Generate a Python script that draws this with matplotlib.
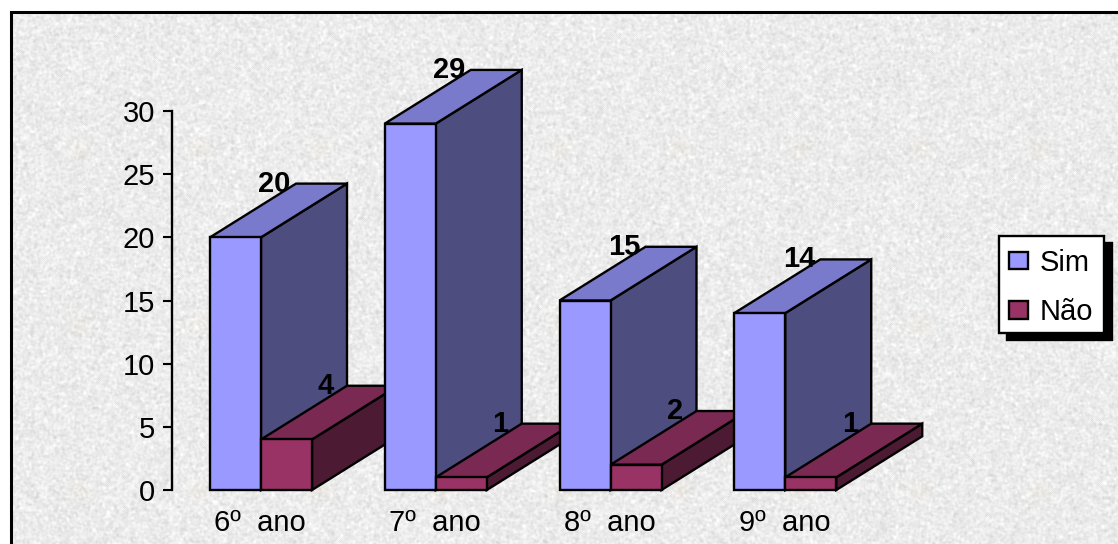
import numpy as np
import matplotlib
matplotlib.use("Agg")
import matplotlib.pyplot as plt
from matplotlib.patches import Patch, Rectangle

plt.rcParams['font.family'] = ['Liberation Sans', 'DejaVu Sans']

anos = ['6º  ano', '7º  ano', '8º  ano', '9º  ano']
sim = [20, 29, 15, 14]
nao = [4, 1, 2, 1]
y_ticks = [0, 5, 10, 15, 20, 25, 30]

W, H = 1118, 544
fig = plt.figure(figsize=(W / 100, H / 100), dpi=100, facecolor='white')

# textured paper background, only decoration
rng = np.random.default_rng(3)
tex = rng.normal(0, 1, (H - 12, W - 10))
for _ in range(2):
    tex = (tex + np.roll(tex, 1, 0) + np.roll(tex, -1, 0) + np.roll(tex, 1, 1) + np.roll(tex, -1, 1)) / 5
tex = 236 + tex / tex.std() * 6
bg = np.dstack([tex, tex, tex])
# faint beige spots of the paper pattern
yy, xx = np.mgrid[12:H, 10:W]
for sx in range(80, 1118, 120):
    for sy in (148, 325, 490):
        d = np.exp(-((xx - sx) ** 2 + (yy - sy) ** 2) / 90.0)
        bg[:, :, 1] -= d * 3
        bg[:, :, 2] -= d * 8
fig.figimage(np.clip(bg, 0, 255).astype(np.uint8), xo=10, yo=0, origin='upper', zorder=-1)

# outer frame, cut by the image at right and bottom
fig.add_artist(Rectangle((11 / W, -0.1), 1.2, (H - 12) / H + 0.1, transform=fig.transFigure,
                         fill=False, ec='black', lw=2.2))

# axes: x from 173 to 872 px, y from 490 (0) to 111 (30)
ax = fig.add_axes([173 / W, (H - 490) / H, 699 / W, 379 / H])
ax.patch.set_visible(False)
ax.set_xlim(0, 4)
ax.set_ylim(0, 30)

bw = 51 / 174.75
dx = 86 / 174.75
dy = 53.7 / 12.63
start = 37 / 174.75


def bar3d(x0, v, front, top, side):
    ax.fill([x0 + bw, x0 + bw + dx, x0 + bw + dx, x0 + bw], [0, dy, v + dy, v],
            fc=side, ec='black', lw=1.7, clip_on=False, joinstyle='miter')
    ax.fill([x0, x0 + dx, x0 + bw + dx, x0 + bw], [v, v + dy, v + dy, v],
            fc=top, ec='black', lw=1.7, clip_on=False, joinstyle='miter')
    ax.bar(x0, v, bw, align='edge', color=front, edgecolor='black', lw=1.7, clip_on=False)
    ax.text(x0 + 0.37, v + dy, str(v), ha='center', va='center', fontsize=21,
            fontweight='bold', color='black', clip_on=False, zorder=10)


for i in range(len(anos)):
    x0 = i + start
    bar3d(x0, sim[i], '#9999FF', '#7A7ACC', '#4D4D80')
    bar3d(x0 + bw, nao[i], '#993366', '#7A2952', '#4D1A33')

for s in ['top', 'right', 'bottom']:
    ax.spines[s].set_visible(False)
ax.spines['left'].set_linewidth(1.7)
ax.spines['left'].set_position(('outward', 1))
ax.set_yticks(y_ticks)
ax.tick_params(axis='y', length=6.5, width=1.5, pad=5.5, labelsize=21)
ax.set_xticks([i + 0.5 for i in range(len(anos))])
ax.set_xticklabels(anos)
ax.tick_params(axis='x', length=0, pad=14, labelsize=21)

handles = [Patch(fc='#9999FF', ec='black', lw=1.7, label='Sim'),
           Patch(fc='#993366', ec='black', lw=1.7, label='Não')]
leg = fig.legend(handles=handles, loc='upper left',
                 bbox_to_anchor=(999 / W, (H - 236) / H), bbox_transform=fig.transFigure,
                 fontsize=21, frameon=True, fancybox=False, framealpha=1, facecolor='white',
                 edgecolor='black', borderpad=0.34, borderaxespad=0, labelspacing=0.74,
                 handlelength=0.65, handleheight=0.55, handletextpad=0.42,
                 shadow={'ox': 6, 'oy': -5, 'facecolor': 'black', 'edgecolor': 'black', 'alpha': 1})
leg.get_frame().set_linewidth(1.7)
# entries sit a little lower in the box
for t in leg.get_texts():
    t.set_y(-3)
for p in leg.get_patches():
    p.set_y(p.get_y() - 2)

fig.savefig('out.png', dpi=100)
